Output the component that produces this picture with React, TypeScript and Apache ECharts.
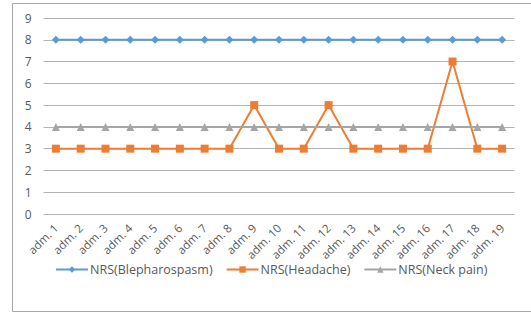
import React, { useEffect, useRef } from "react";
import * as echarts from "echarts";

const categories = [
  "adm. 1", "adm. 2", "adm. 3", "adm. 4", "adm. 5", "adm. 6", "adm. 7", "adm. 8", "adm. 9", "adm. 10",
  "adm. 11", "adm. 12", "adm. 13", "adm. 14", "adm. 15", "adm. 16", "adm. 17", "adm. 18", "adm. 19",
];
const blepharospasm = [8, 8, 8, 8, 8, 8, 8, 8, 8, 8, 8, 8, 8, 8, 8, 8, 8, 8, 8];
const headache = [3, 3, 3, 3, 3, 3, 3, 3, 5, 3, 3, 5, 3, 3, 3, 3, 7, 3, 3];
const neckPain = [4, 4, 4, 4, 4, 4, 4, 4, 4, 4, 4, 4, 4, 4, 4, 4, 4, 4, 4];
const seriesNames = ["NRS(Blepharospasm)", "NRS(Headache)", "NRS(Neck pain)"];

const FONT = "'Open Sans', 'Noto Sans', sans-serif";

export default function App() {
  const ref = useRef<HTMLDivElement>(null);
  useEffect(() => {
    if (!ref.current) return;
    const chart = echarts.init(ref.current, undefined, { renderer: "svg" });
    chart.setOption({
      animation: false,
      backgroundColor: "#ffffff",
      graphic: [
        {
          type: "rect",
          shape: { x: 12.5, y: 3.5, width: 560, height: 308 },
          style: { fill: "none", stroke: "#a6a6a6", lineWidth: 1 },
          silent: true,
        },
      ],
      grid: { left: 43.5, top: 18, width: 471, height: 196, containLabel: false },
      legend: {
        top: 258,
        left: 50,
        itemWidth: 32,
        itemHeight: 8,
        itemGap: 13,
        textStyle: { color: "#595959", fontSize: 12.5, fontFamily: FONT, padding: [0, 0, 0, -3] },
        data: seriesNames,
      },
      xAxis: {
        type: "category",
        data: categories,
        boundaryGap: true,
        axisLine: { show: false },
        axisTick: { show: false },
        axisLabel: {
          rotate: 45,
          interval: 0,
          color: "#595959",
          fontSize: 11.5,
          fontFamily: FONT,
          margin: 12,
        },
      },
      yAxis: {
        type: "value",
        min: 0,
        max: 9,
        interval: 1,
        axisLine: { show: false },
        axisTick: { show: false },
        axisLabel: { color: "#595959", fontSize: 12, fontFamily: FONT, margin: 12 },
        splitLine: { lineStyle: { color: "#b4b4b4", width: 1 } },
      },
      series: [
        {
          name: seriesNames[0],
          type: "line",
          data: blepharospasm,
          symbol: "diamond",
          symbolSize: 8,
          color: "#5b9bd5",
          lineStyle: { width: 2, color: "#5b9bd5" },
          itemStyle: { color: "#5b9bd5" },
        },
        {
          name: seriesNames[1],
          type: "line",
          data: headache,
          symbol: "rect",
          symbolSize: 8,
          color: "#ed7d31",
          lineStyle: { width: 2, color: "#ed7d31" },
          itemStyle: { color: "#ed7d31" },
        },
        {
          name: seriesNames[2],
          type: "line",
          data: neckPain,
          symbol: "triangle",
          symbolSize: 8,
          color: "#a5a5a5",
          lineStyle: { width: 2, color: "#a5a5a5" },
          itemStyle: { color: "#a5a5a5" },
        },
      ],
    });
    return () => chart.dispose();
  }, []);
  return (
    <div
      ref={ref}
      style={{ position: "fixed", left: 0, top: 0, width: 531, height: 314 }}
    />
  );
}
